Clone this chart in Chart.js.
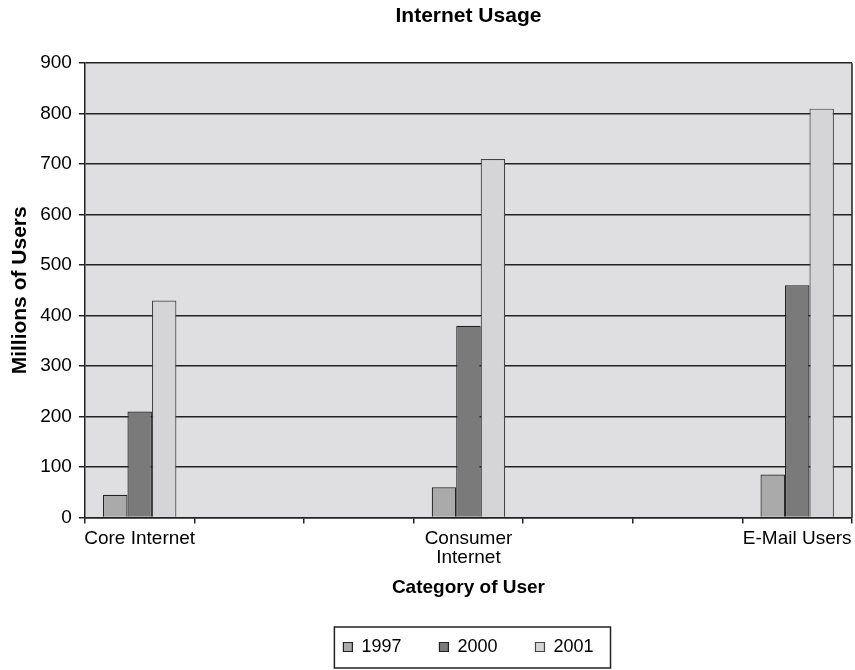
<!DOCTYPE html>
<html lang="en">
<head>
    <meta charset="UTF-8">
    <title>Internet Usage</title>
    <script src="https://cdn.jsdelivr.net/npm/chart.js"></script>
    <style>
        body {
            margin: 0;
            background-color: #ffffff;
        }
        .chart-container {
            width: 855px;
            height: 670px;
        }
    </style>
</head>
<body>
    <div class="chart-container">
        <canvas id="usageChart"></canvas>
    </div>

    <script>
        // categories (blank slots sit between the labelled ones)
        const categories = ['Core Internet', '', '', ['Consumer', 'Internet'], '', '', 'E-Mail Users'];
        const years = ['1997', '2000', '2001'];
        const users1997 = [45, null, null, 60, null, null, 85];
        const users2000 = [210, null, null, 380, null, null, 460];
        const users2001 = [430, null, null, 710, null, null, 810];
        const yTicks = [0, 100, 200, 300, 400, 500, 600, 700, 800, 900];

        const FONT = "'Liberation Sans', Arial, sans-serif";

        // grey plot background plus the right-hand frame line
        const plotFrame = {
            id: 'plotFrame',
            beforeDraw(chart) {
                const { ctx, chartArea: a } = chart;
                ctx.save();
                ctx.fillStyle = '#dfdfe1';
                ctx.fillRect(a.left, a.top, a.right - a.left, a.bottom - a.top);
                ctx.restore();
            },
            afterDraw(chart) {
                const { ctx, chartArea: a } = chart;
                ctx.save();
                ctx.strokeStyle = '#222';
                ctx.lineWidth = 1.5;
                ctx.beginPath();
                ctx.moveTo(a.right, a.top);
                ctx.lineTo(a.right, a.bottom);
                ctx.stroke();

                // box round the legend
                const boxes = chart.legend.legendHitBoxes;
                if (boxes && boxes.length) {
                    const minX = Math.min(...boxes.map(b => b.left));
                    const maxX = Math.max(...boxes.map(b => b.left + b.width));
                    const midY = boxes[0].top + boxes[0].height / 2;
                    ctx.lineWidth = 1.5;
                    ctx.strokeRect(minX - 9, midY - 20, maxX - minX + 26, 41);
                }
                ctx.restore();
            }
        };

        const makeSet = (label, data, fill, border) => ({
            label: label,
            data: data,
            backgroundColor: fill,
            borderColor: border,
            borderWidth: 1.2,
            categoryPercentage: 0.67,
            barPercentage: 1.0
        });

        window.onload = () => {
            const ctx = document.getElementById('usageChart').getContext('2d');
            new Chart(ctx, {
                type: 'bar',
                data: {
                    labels: categories,
                    datasets: [
                        makeSet(years[0], users1997, '#aaaaaa', '#222222'),
                        makeSet(years[1], users2000, '#7a7a7a', '#222222'),
                        makeSet(years[2], users2001, '#d5d5d7', '#444444')
                    ]
                },
                options: {
                    responsive: true,
                    maintainAspectRatio: false,
                    animation: false,
                    layout: {
                        padding: { left: 8, right: 3, top: 4, bottom: 4 }
                    },
                    plugins: {
                        title: {
                            display: true,
                            fullSize: false,
                            text: 'Internet Usage',
                            color: '#000',
                            font: { family: FONT, size: 21, weight: 'bold' },
                            padding: { top: 0, bottom: 34 }
                        },
                        legend: {
                            position: 'bottom',
                            fullSize: false,
                            labels: {
                                color: '#000',
                                boxWidth: 9,
                                boxHeight: 9,
                                padding: 38,
                                font: { family: FONT, size: 18 }
                            }
                        },
                        tooltip: { enabled: false }
                    },
                    scales: {
                        x: {
                            // let the last label reach the page edge like the original
                            afterFit: (scale) => { scale.paddingRight = 0; },
                            grid: {
                                display: true,
                                offset: true,
                                drawOnChartArea: false,
                                drawTicks: true,
                                tickLength: 6,
                                color: '#222',
                                lineWidth: 1.5
                            },
                            border: { display: true, color: '#222', width: 1.5 },
                            ticks: {
                                color: '#000',
                                autoSkip: false,
                                maxRotation: 0,
                                font: { family: FONT, size: 19, lineHeight: 1.0 },
                                padding: 5.5
                            },
                            title: {
                                display: true,
                                text: 'Category of User',
                                color: '#000',
                                font: { family: FONT, size: 19, weight: 'bold' },
                                padding: { top: 3.7, bottom: 1 }
                            }
                        },
                        y: {
                            min: 0,
                            max: 900,
                            afterBuildTicks: (axis) => {
                                axis.ticks = yTicks.map(v => ({ value: v }));
                            },
                            grid: {
                                color: '#222',
                                lineWidth: 1.5,
                                tickLength: 6
                            },
                            border: { display: true, color: '#222', width: 1.5 },
                            ticks: {
                                color: '#000',
                                font: { family: FONT, size: 19 },
                                padding: 7
                            },
                            title: {
                                display: true,
                                text: 'Millions of Users',
                                color: '#000',
                                font: { family: FONT, size: 21, weight: 'bold' },
                                padding: { top: 0, bottom: 0 }
                            }
                        }
                    }
                },
                plugins: [plotFrame]
            });
        };
    </script>
</body>
</html>
